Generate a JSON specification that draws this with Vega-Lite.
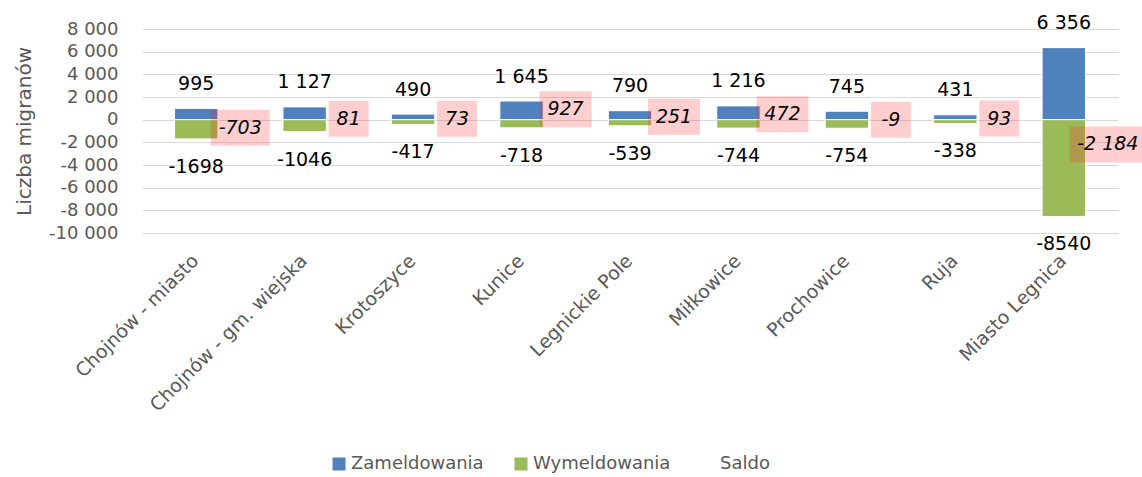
{
  "$schema": "https://vega.github.io/schema/vega-lite/v6.json",
  "width": 976,
  "height": 204,
  "autosize": "none",
  "padding": {"left": 142, "top": 29, "right": 24, "bottom": 244},
  "background": "white",
  "config": {
    "locale": {"number": {"decimal": ",", "thousands": " ", "grouping": [3], "currency": ["", " zł"], "minus": "-"}},
    "font": "DejaVu Sans",
    "view": {"stroke": null}
  },
  "data": {
    "values": [
      {"gmina": "Chojnów - miasto", "zam": 995, "wym": -1698, "saldo": -703},
      {"gmina": "Chojnów - gm. wiejska", "zam": 1127, "wym": -1046, "saldo": 81},
      {"gmina": "Krotoszyce", "zam": 490, "wym": -417, "saldo": 73},
      {"gmina": "Kunice", "zam": 1645, "wym": -718, "saldo": 927},
      {"gmina": "Legnickie Pole", "zam": 790, "wym": -539, "saldo": 251},
      {"gmina": "Miłkowice", "zam": 1216, "wym": -744, "saldo": 472},
      {"gmina": "Prochowice", "zam": 745, "wym": -754, "saldo": -9},
      {"gmina": "Ruja", "zam": 431, "wym": -338, "saldo": 93},
      {"gmina": "Miasto Legnica", "zam": 6356, "wym": -8540, "saldo": -2184}
    ]
  },
  "encoding": {
    "x": {
      "field": "gmina", "type": "nominal", "sort": null,
      "scale": {"paddingInner": 0, "paddingOuter": 0},
      "axis": {
        "title": null, "domain": false, "ticks": false, "grid": false,
        "labelAngle": -45, "labelAlign": "right", "labelBaseline": "top",
        "labelPadding": 18, "labelOffset": -7, "labelFontSize": 19, "labelColor": "#595959",
        "labelLimit": 400, "labelFont": "DejaVu Sans"
      }
    }
  },
  "layer": [
    {
      "mark": {"type": "bar", "width": {"band": 0.4}, "stroke": "white", "strokeWidth": 1},
      "encoding": {
        "y": {
          "field": "zam", "type": "quantitative",
          "scale": {"domain": [-10000, 8000], "nice": false, "zero": false},
          "axis": {
            "values": [-10000, -8000, -6000, -4000, -2000, 0, 2000, 4000, 6000, 8000],
            "tickCount": 20,
            "format": ",d", "labelOverlap": false, "labelFlush": false,
            "domain": false, "ticks": false, "grid": true,
            "gridColor": "#d9d9d9", "gridWidth": 1,
            "labelFontSize": 18, "labelColor": "#595959", "labelPadding": 24,
            "title": "Liczba migranów", "titleFontSize": 20, "titleFontWeight": "normal",
            "titleColor": "#595959", "titlePadding": 14, "titleFont": "DejaVu Sans"
          }
        },
        "color": {
          "datum": "Zameldowania", "type": "nominal",
          "scale": {"domain": ["Zameldowania", "Wymeldowania", "Saldo"], "range": ["#4f81bd", "#9bbb59", "rgba(0,0,0,0)"]},
          "legend": {
            "orient": "none", "legendX": 188, "legendY": 426, "direction": "horizontal",
            "title": null, "symbolType": "square", "symbolSize": 169, "symbolStrokeWidth": 0,
            "labelFontSize": 18, "labelColor": "#595959", "labelOffset": 3,
            "columnPadding": 28, "labelLimit": 300
          }
        }
      }
    },
    {
      "mark": {"type": "bar", "width": {"band": 0.4}, "stroke": "white", "strokeWidth": 1},
      "encoding": {
        "y": {"field": "wym", "type": "quantitative"},
        "color": {"datum": "Wymeldowania", "type": "nominal"}
      }
    },
    {
      "mark": {
        "type": "point", "filled": true, "size": 4, "opacity": 1, "strokeWidth": 0,
        "fill": "#ff2020", "fillOpacity": 0.22, "xOffset": 44,
        "shape": {"expr": "'M'+(-(max(40,16+12*length(toString(abs(datum.saldo)))+(datum.saldo<0?7:0)+(abs(datum.saldo)>=1000?6:0)))/2)+',-18h'+(max(40,16+12*length(toString(abs(datum.saldo)))+(datum.saldo<0?7:0)+(abs(datum.saldo)>=1000?6:0)))+'v36h'+(-(max(40,16+12*length(toString(abs(datum.saldo)))+(datum.saldo<0?7:0)+(abs(datum.saldo)>=1000?6:0))))+'z'"}
      },
      "encoding": {
        "y": {"field": "saldo", "type": "quantitative"}
      }
    },
    {
      "mark": {"type": "text", "dy": -24.5, "fontSize": 19, "color": "#000000", "baseline": "middle"},
      "encoding": {
        "y": {"field": "zam", "type": "quantitative"},
        "text": {"field": "zam", "type": "quantitative", "format": ","}
      }
    },
    {
      "mark": {"type": "text", "dy": 28, "fontSize": 19, "color": "#000000", "baseline": "middle"},
      "encoding": {
        "y": {"field": "wym", "type": "quantitative"},
        "text": {"field": "wym", "type": "quantitative", "format": "d"}
      }
    },
    {
      "mark": {"type": "text", "dx": 44, "fontSize": 19, "fontStyle": "italic", "color": "#000000", "baseline": "middle"},
      "encoding": {
        "y": {"field": "saldo", "type": "quantitative"},
        "text": {"field": "saldo", "type": "quantitative", "format": ","}
      }
    }
  ]
}
